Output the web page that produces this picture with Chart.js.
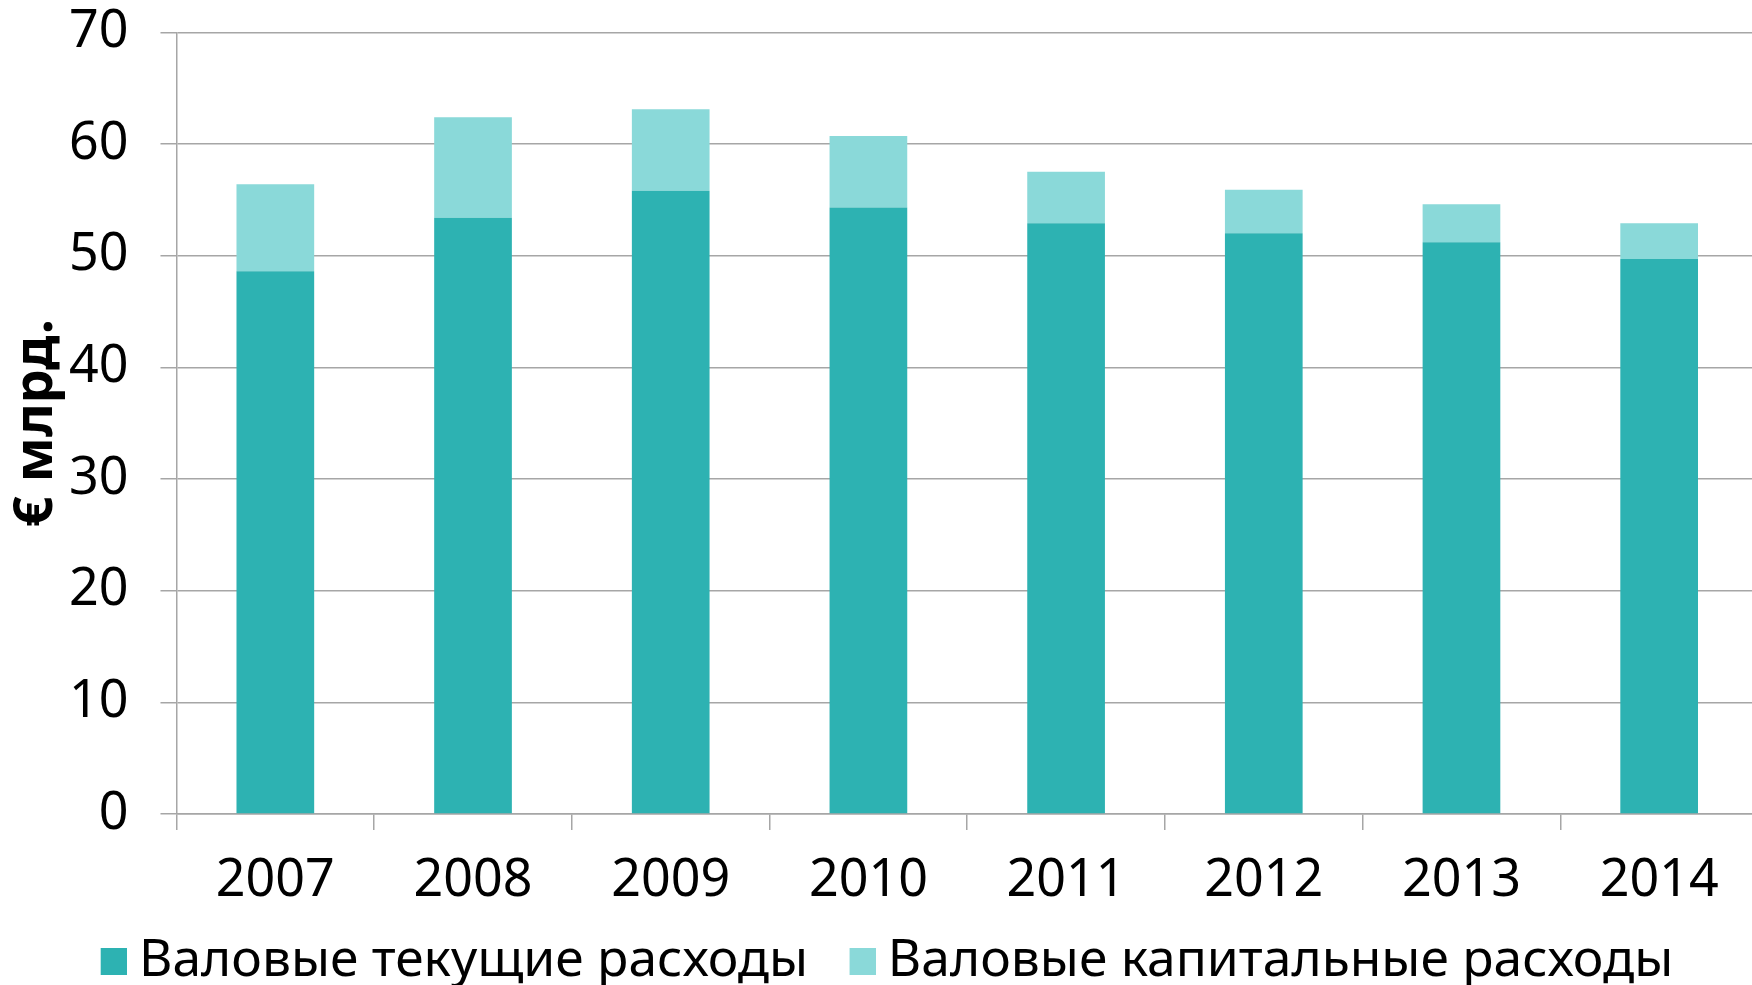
<!DOCTYPE html>
<html>
<head>
<meta charset="utf-8">
<script src="https://cdn.jsdelivr.net/npm/chart.js@4.4.1/dist/chart.umd.min.js"></script>
<style>
html,body{margin:0;padding:0;background:#fff;overflow:hidden;width:1752px;height:985px;}
#wrap{position:absolute;left:0;top:0;width:1758px;height:985px;}
</style>
</head>
<body>
<div id="wrap"><canvas id="c" width="1758" height="985"></canvas></div>
<script>
const categories = ["2007","2008","2009","2010","2011","2012","2013","2014"];
const currentExp = [48.6, 53.4, 55.8, 54.3, 52.9, 52.0, 51.2, 49.7];
const capitalExp = [7.8, 9.0, 7.3, 6.4, 4.6, 3.9, 3.4, 3.2];
const seriesNames = ["Валовые текущие расходы", "Валовые капитальные расходы"];
const seriesColors = ["#2db2b2", "#8ad9d9"];
const yTicks = [0, 10, 20, 30, 40, 50, 60, 70];
const yTitle = "€ млрд.";

const FONT = "'Noto Sans', 'Open Sans', sans-serif";

// legend swatch: 26px square placed at the right part of a wider transparent image
function swatch(color) {
  const c = document.createElement('canvas');
  c.width = 78; c.height = 27;
  const g = c.getContext('2d');
  g.fillStyle = color;
  g.fillRect(52, 0, 26, 27);
  return c;
}
const swatches = seriesColors.map(swatch);

new Chart(document.getElementById('c'), {
  type: 'bar',
  data: {
    labels: categories,
    datasets: [
      {label: seriesNames[0], data: currentExp, backgroundColor: seriesColors[0], borderWidth: 0,
       barPercentage: 0.393, categoryPercentage: 1.0},
      {label: seriesNames[1], data: capitalExp, backgroundColor: seriesColors[1], borderWidth: 0,
       barPercentage: 0.393, categoryPercentage: 1.0}
    ]
  },
  options: {
    responsive: false,
    animation: false,
    layout: {padding: {top: 0, left: -22.65, right: 0, bottom: -11.75}},
    plugins: {
      legend: {
        position: 'bottom',
        labels: {
          font: {family: FONT, size: 51.5},
          color: '#000',
          usePointStyle: true,
          pointStyleWidth: 51.1,
          boxHeight: 26,
          padding: 2.85,
          generateLabels: (chart) => {
            const items = Chart.defaults.plugins.legend.labels.generateLabels(chart);
            items.forEach((it, i) => { it.pointStyle = swatches[i]; it.lineWidth = 0; });
            return items;
          }
        }
      },
      tooltip: {enabled: false}
    },
    scales: {
      x: {
        stacked: true,
        grid: {drawOnChartArea: false, drawTicks: true, tickLength: 16, color: '#a6a6a6', lineWidth: 1.5, offset: true},
        border: {display: true, color: '#a6a6a6', width: 1.5},
        ticks: {font: {family: FONT, size: 52}, color: '#000', padding: 20, maxRotation: 0}
      },
      y: {
        stacked: true,
        min: 0, max: 70,
        afterBuildTicks: (axis) => { axis.ticks = yTicks.map(v => ({value: v})); },
        grid: {color: '#a6a6a6', lineWidth: 1.5, drawTicks: true, tickLength: 16},
        border: {display: true, color: '#a6a6a6', width: 1.5},
        ticks: {font: {family: FONT, size: 52, lineHeight: 0.01}, color: '#000', padding: 32},
        title: {display: true, text: yTitle, font: {family: FONT, size: 54, weight: 'bold'}, color: '#000', padding: {top: 27.25, bottom: -32.4}}
      }
    }
  }
});
</script>
</body>
</html>
